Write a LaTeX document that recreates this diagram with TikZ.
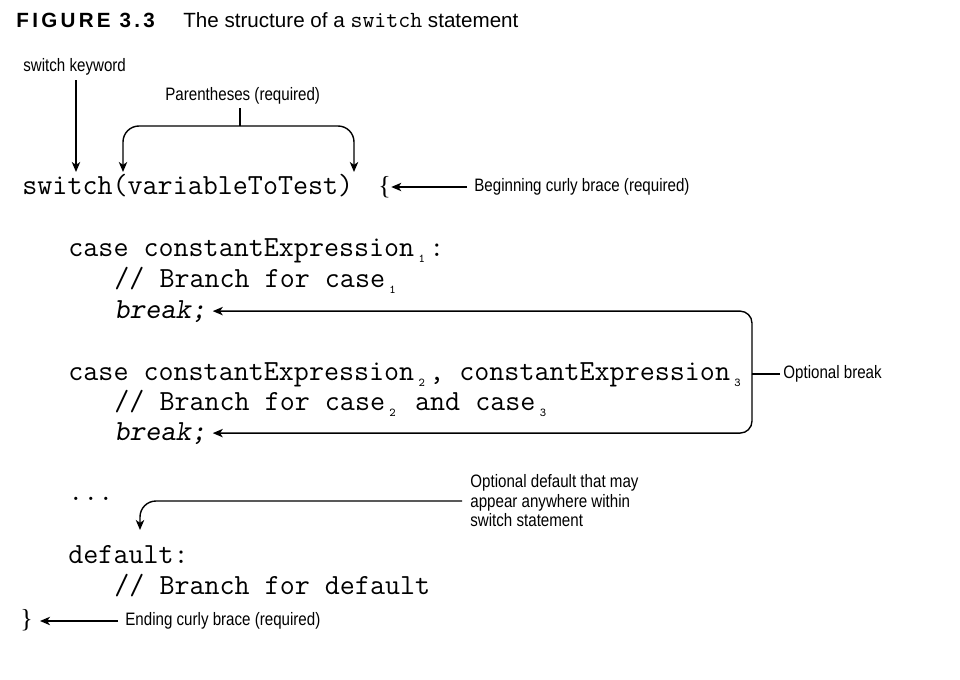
\documentclass[tikz,border=0pt]{standalone}
\usepackage{fontspec}
\setmainfont{Liberation Sans}
\setmonofont{Latin Modern Mono}
\newfontfamily\lblfont{Liberation Sans}[FakeStretch=0.84]
\newfontfamily\figfont{Liberation Sans}[LetterSpace=16]
\newfontfamily\bracefont{Liberation Serif}
\newfontfamily\slantfont{Latin Modern Mono Slanted}
\usepackage{tikz}
\usetikzlibrary{arrows.meta,positioning}

\newcommand{\csub}[1]{\hbox to \fontcharwd\font`0{\hss\raisebox{-3pt}{\fontsize{6}{6}\selectfont #1}\hss}}

\tikzset{
	code/.style={anchor=base west, inner sep=0pt, font=\ttfamily\fontsize{14.6}{16}\selectfont},
	brk/.style={code, font=\slantfont\fontsize{14.6}{16}\selectfont},
	curly/.style={anchor=base west, inner sep=0pt, font=\bracefont\fontsize{13}{15}\selectfont},
	lbl/.style={anchor=west, inner sep=0pt, align=left, font=\lblfont\fontsize{9}{9.75}\selectfont},
	lead/.style={line width=0.7pt},
	arr/.style={lead, -{Stealth[length=5pt,width=4.2pt,inset=1.4pt]}},
}

\begin{document}
\begin{tikzpicture}[x=0.5pt, y=-0.5pt]
	\useasboundingbox (0,0) rectangle (960,680);

	% title
	\node[anchor=base west, inner sep=0pt, font=\figfont\bfseries\fontsize{10.3}{12}\selectfont] (fig) at (16,27) {FIGURE 3.3};
	\node[anchor=base west, inner sep=0pt, font=\fontsize{10.3}{12}\selectfont] (cap) at (183,27) {The structure of a {\ttfamily\fontsize{11.6}{12}\selectfont switch} statement};

	% code
	\node[code] (sw) at (22,194) {switch(variableToTest)};
	\node[curly] (lb) at (378,194) {\{};
	\node[code] (c1) at (68,256) {case constantExpression\csub{1}:};
	\node[code] (b1) at (114,287) {// Branch for case\csub{1}};
	\node[brk] (k1) at (114,318) {break;};
	\node[code] (c2) at (68,380) {case constantExpression\csub{2}, constantExpression\csub{3}};
	\node[code] (b2) at (114,410) {// Branch for case\csub{2} and case\csub{3}};
	\node[brk] (k2) at (114,440) {break;};
	\node[code] (dots) at (68,500) {...};
	\node[code] (df) at (68,563) {default:};
	\node[code] (bd) at (114,594) {// Branch for default};
	\node[curly] (rb) at (20,627) {\}};

	% labels
	\node[lbl] (kwlbl) at (23,67) {switch keyword};
	\node[lbl] (parlbl) at (165,96) {Parentheses (required)};
	\node[lbl] (beglbl) at (474,187) {Beginning curly brace (required)};
	\node[lbl] (brklbl) at (783,374) {Optional break};
	\node[lbl] (deflbl) at (470,501) {Optional default that may\\appear anywhere within\\switch statement};
	\node[lbl] (endlbl) at (125,621) {Ending curly brace (required)};

	\coordinate (kwtop) at (76,80);
	\coordinate (kwtip) at (76,172);
	\coordinate (parstem) at (240,108);
	\coordinate (parbar) at (240,126);
	\coordinate (lpar) at (123,172);
	\coordinate (rpar) at (354,172);
	\coordinate (brkbox) at (752,374);
	\coordinate (deftip) at (140,530);
	\coordinate (endtip) at (40,621);

	% connectors
	\draw[arr] (kwtop) -- (kwtip);
	\draw[lead] (parstem) -- (parbar);
	\draw[arr, rounded corners=8pt] (parbar) -| (lpar);
	\draw[arr, rounded corners=8pt] (parbar) -| (rpar);
	\draw[arr, shorten <=3.5pt] (beglbl.west) -- (beglbl.west -| lb.east);
	\draw[lead, shorten <=1.5pt] (brklbl.west) -- (brklbl.west -| brkbox);
	\draw[arr, rounded corners=6pt] (brkbox) |- ([xshift=3pt]k1.east);
	\draw[arr, rounded corners=6pt] (brkbox) |- ([xshift=3pt]k2.east);
	\draw[arr, rounded corners=8pt, shorten <=4pt] (deflbl.west) -| (deftip);
	\draw[arr, shorten <=3.5pt] (endlbl.west) -- (endlbl.west -| endtip);
\end{tikzpicture}
\end{document}
